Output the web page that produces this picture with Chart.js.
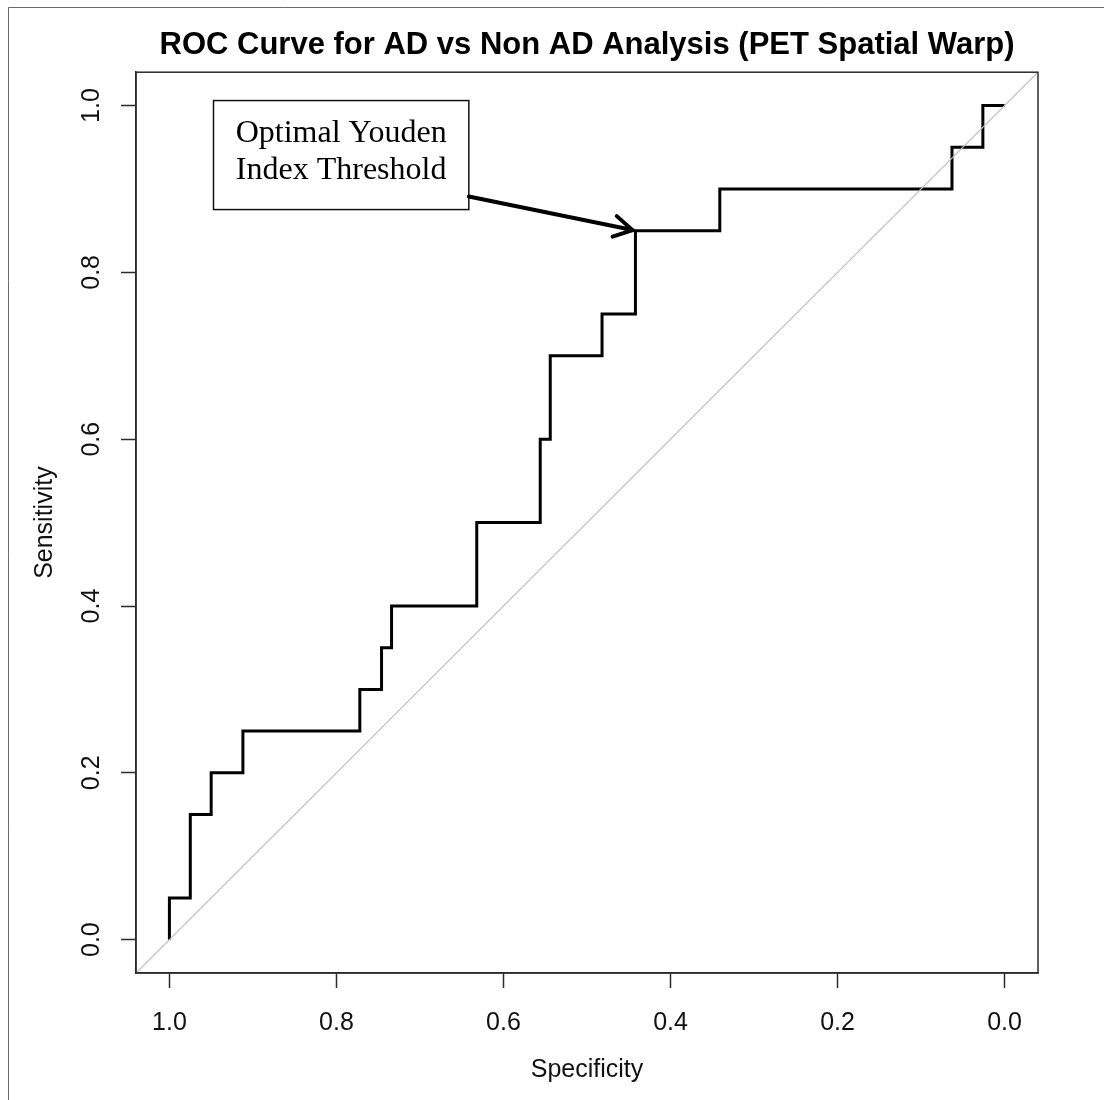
<!DOCTYPE html>
<html>
<head>
<meta charset="utf-8">
<script src="https://cdn.jsdelivr.net/npm/chart.js@4/dist/chart.umd.min.js"></script>
<style>
  html, body { margin: 0; padding: 0; background: #fff; }
  canvas { display: block; }
</style>
</head>
<body>
<canvas id="roc" width="1104" height="1100"></canvas>
<script>
const chartTitle = 'ROC Curve for AD vs Non AD Analysis (PET Spatial Warp)';
const xAxisTitle = 'Specificity';
const yAxisTitle = 'Sensitivity';
const tickValues = [0, 0.2, 0.4, 0.6, 0.8, 1.0];

// ROC operating points, one per threshold; the curve steps between them
const specificity = [1.0, 0.975, 0.95, 0.912, 0.772, 0.746, 0.734, 0.632, 0.556, 0.544, 0.482, 0.442, 0.341, 0.063, 0.026, 0.0];
const sensitivity = [0.0, 0.05, 0.15, 0.20, 0.25, 0.30, 0.35, 0.40, 0.50, 0.60, 0.70, 0.75, 0.85, 0.90, 0.95, 1.0];

// chance line (sensitivity = 1 - specificity) across the full plotting range
const chanceSpec = [1.04, -0.04];
const chanceSens = [-0.04, 1.04];

// corner of the curve with the highest Youden index
const optimalSpecificity = 0.442;
const optimalSensitivity = 0.85;
const annotationLines = ['Optimal Youden', 'Index Threshold'];

const rocPoints = specificity.map((s, i) => ({ x: s, y: sensitivity[i] }));
const chancePoints = chanceSpec.map((s, i) => ({ x: s, y: chanceSens[i] }));

const axisColor = '#2b2b2b';
const sansFont = '"Liberation Sans", Arial, sans-serif';
const serifFont = '"Liberation Serif", "Times New Roman", serif';

// white page with a thin frame along the left and top edges
const pagePlugin = {
  id: 'page',
  beforeDraw(chart) {
    const ctx = chart.ctx;
    ctx.save();
    ctx.fillStyle = '#fff';
    ctx.fillRect(0, 0, chart.width, chart.height);
    ctx.strokeStyle = '#6a6a6a';
    ctx.lineWidth = 1;
    ctx.beginPath();
    ctx.moveTo(8.5, chart.height);
    ctx.lineTo(8.5, 7.5);
    ctx.lineTo(chart.width, 7.5);
    ctx.stroke();
    ctx.restore();
  }
};

// box around the plot region, plus the labelled arrow to the optimal threshold
const plotExtras = {
  id: 'plotExtras',
  afterDatasetsDraw(chart) {
    const ctx = chart.ctx;
    const a = chart.chartArea;
    const xs = chart.scales.x, ys = chart.scales.y;
    ctx.save();
    ctx.strokeStyle = axisColor;
    ctx.lineWidth = 1.5;
    ctx.strokeRect(a.left, a.top, a.right - a.left, a.bottom - a.top);

    // label box, placed in data units
    const bx0 = xs.getPixelForValue(0.9472), bx1 = xs.getPixelForValue(0.6415);
    const by0 = ys.getPixelForValue(1.006), by1 = ys.getPixelForValue(0.8753);
    ctx.fillStyle = '#fff';
    ctx.fillRect(bx0, by0, bx1 - bx0, by1 - by0);
    ctx.strokeStyle = '#111';
    ctx.lineWidth = 1.5;
    ctx.strokeRect(bx0, by0, bx1 - bx0, by1 - by0);
    ctx.fillStyle = '#000';
    ctx.font = '32px ' + serifFont;
    ctx.textAlign = 'center';
    ctx.textBaseline = 'alphabetic';
    const cx = (bx0 + bx1) / 2;
    ctx.fillText(annotationLines[0], cx, by0 + 41);
    ctx.fillText(annotationLines[1], cx, by0 + 78);

    // arrow from the box edge to the optimal operating point
    const sx = bx1, sy = ys.getPixelForValue(0.891);
    const px = xs.getPixelForValue(optimalSpecificity);
    const py = ys.getPixelForValue(optimalSensitivity);
    const ang = Math.atan2(py - sy, px - sx);
    const tx = px - 3 * Math.cos(ang), ty = py - 3 * Math.sin(ang);
    ctx.strokeStyle = '#000';
    ctx.lineWidth = 4;
    ctx.lineCap = 'round';
    ctx.beginPath();
    ctx.moveTo(sx, sy);
    ctx.lineTo(tx, ty);
    const head = 21, spread = Math.PI / 6;
    ctx.moveTo(tx - head * Math.cos(ang - spread), ty - head * Math.sin(ang - spread));
    ctx.lineTo(tx, ty);
    ctx.lineTo(tx - head * Math.cos(ang + spread), ty - head * Math.sin(ang + spread));
    ctx.stroke();
    ctx.restore();
  }
};

new Chart(document.getElementById('roc'), {
  type: 'line',
  data: {
    datasets: [
      {
        label: 'Chance',
        data: chancePoints,
        borderColor: '#bdbdbd',
        borderWidth: 1.2,
        pointRadius: 0,
        fill: false
      },
      {
        label: 'ROC',
        data: rocPoints,
        borderColor: '#000',
        borderWidth: 3,
        borderJoinStyle: 'miter',
        stepped: 'after',
        pointRadius: 0,
        fill: false
      }
    ]
  },
  options: {
    responsive: false,
    animation: false,
    events: [],
    layout: { padding: { left: 0, right: 66, top: 0, bottom: 0 } },
    plugins: {
      legend: { display: false },
      tooltip: { enabled: false },
      title: {
        display: true,
        text: chartTitle,
        fullSize: false,
        color: '#000',
        font: { family: sansFont, size: 31, weight: 'bold', lineHeight: 1.2 },
        padding: { top: 27, bottom: 8 }
      }
    },
    scales: {
      x: {
        type: 'linear',
        reverse: true,
        min: -0.04,
        max: 1.04,
        afterBuildTicks(scale) { scale.ticks = tickValues.map(v => ({ value: v })); },
        afterFit(scale) { scale.height = 127; },
        grid: { drawOnChartArea: false, drawTicks: true, tickLength: 15, tickColor: axisColor, tickWidth: 1.5 },
        border: { display: true, color: axisColor, width: 1.5 },
        ticks: {
          color: '#111',
          font: { family: sansFont, size: 25 },
          padding: 20,
          maxRotation: 0,
          autoSkip: false,
          callback: v => Number(v).toFixed(1)
        },
        title: {
          display: true,
          text: xAxisTitle,
          color: '#111',
          font: { family: sansFont, size: 25 },
          padding: { top: 0, bottom: 15 }
        }
      },
      y: {
        type: 'linear',
        min: -0.04,
        max: 1.04,
        afterBuildTicks(scale) { scale.ticks = tickValues.map(v => ({ value: v })); },
        afterFit(scale) { scale.width = 136; },
        grid: { drawOnChartArea: false, drawTicks: true, tickLength: 15, tickColor: axisColor, tickWidth: 1.5 },
        border: { display: true, color: axisColor, width: 1.5 },
        ticks: {
          color: '#111',
          font: { family: sansFont, size: 25 },
          padding: 12,
          minRotation: 90,
          maxRotation: 90,
          crossAlign: 'center',
          autoSkip: false,
          callback: v => Number(v).toFixed(1)
        },
        title: {
          display: true,
          text: yAxisTitle,
          color: '#111',
          font: { family: sansFont, size: 25 },
          padding: { top: 30, bottom: 0 }
        }
      }
    }
  },
  plugins: [pagePlugin, plotExtras]
});
</script>
</body>
</html>
